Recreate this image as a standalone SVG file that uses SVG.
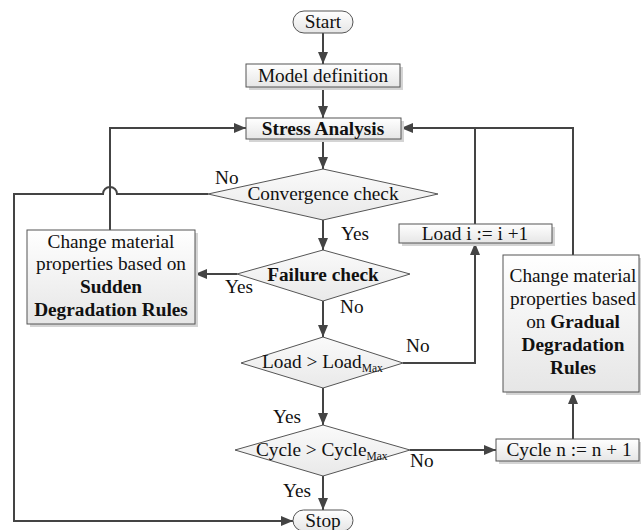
<svg xmlns="http://www.w3.org/2000/svg" width="641" height="530" viewBox="0 0 641 530">
<style>
text{font-family:'Liberation Serif','DejaVu Serif',serif;font-size:19.3px;fill:#111}
.c{text-anchor:middle}
.b{font-weight:bold}
.box{fill:url(#g);stroke:#555;stroke-width:1}
.sh{fill:#d4d4d4}
.dia{fill:url(#gd);stroke:#555;stroke-width:1}
.ln{fill:none;stroke:#444;stroke-width:2}
.ar{marker-end:url(#ah)}
.sub{font-size:11.5px}
</style>
<defs>
<linearGradient id="g" x1="0" y1="0" x2="0" y2="1"><stop offset="0" stop-color="#ffffff"/><stop offset="1" stop-color="#e6e6e6"/></linearGradient>
<linearGradient id="gd" x1="0" y1="0" x2="0" y2="1"><stop offset="0" stop-color="#fafafa"/><stop offset="1" stop-color="#e9e9e9"/></linearGradient>
<marker id="ah" markerUnits="userSpaceOnUse" markerWidth="12" markerHeight="10" refX="12" refY="5" orient="auto"><path d="M0,0 L12,5 L0,10 z" fill="#444"/></marker>
</defs>

<g id="connectors">
<path class="ln ar" d="M323,33 V64"/>
<path class="ln ar" d="M323,87 V118"/>
<path class="ln ar" d="M323,139 V169"/>
<path class="ln ar" d="M323,220 V250"/>
<path class="ln ar" d="M323,301 V337"/>
<path class="ln ar" d="M323,388 V425"/>
<path class="ln ar" d="M323,476 V510"/>
<path class="ln ar" d="M208,194 H117 A7,7 0 0 0 103,194 H14 V521 H293"/>
<path class="ln ar" d="M237,274 H195"/>
<path class="ln ar" d="M110,230 V128 H246"/>
<path class="ln ar" d="M403,363 H475 V243"/>
<path class="ln ar" d="M475,224 V128 H401"/>
<path class="ln" d="M573,255 V128 H474"/>
<path class="ln ar" d="M410,450 H496"/>
<path class="ln ar" d="M573,439 V392"/>
</g>

<g id="start">
<rect x="293" y="11" width="60" height="22" rx="11" class="box"/>
<text x="323" y="28" class="c">Start</text>
</g>

<g id="model">
<rect x="249" y="67" width="154" height="23" class="sh"/>
<rect x="246" y="64" width="154" height="23" class="box"/>
<text x="323" y="82" class="c">Model definition</text>
</g>

<g id="stress">
<rect x="249" y="121" width="155" height="21" class="sh"/>
<rect x="246" y="118" width="155" height="21" class="box"/>
<text x="323" y="135" class="c b">Stress Analysis</text>
</g>

<g id="convergence">
<polygon points="323,169 438,194 323,220 208,194" class="dia"/>
<text x="323" y="200" class="c">Convergence check</text>
</g>

<g id="failure">
<polygon points="323,250 410,274 323,301 237,274" class="dia"/>
<text x="323" y="281" class="c b">Failure check</text>
</g>

<g id="loadcheck">
<polygon points="323,337 403,363 323,388 241,363" class="dia"/>
<text x="262" y="368">Load &gt; Load<tspan class="sub" dy="4">Max</tspan></text>
</g>

<g id="cyclecheck">
<polygon points="323,425 410,450 323,476 235,450" class="dia"/>
<text x="256" y="456">Cycle &gt; Cycle<tspan class="sub" dy="4">Max</tspan></text>
</g>

<g id="stop">
<rect x="293" y="510" width="60" height="21" rx="10.5" class="box"/>
<text x="323" y="527" class="c">Stop</text>
</g>

<g id="sudden">
<rect x="30" y="233" width="168" height="94" class="sh"/>
<rect x="27" y="230" width="168" height="94" class="box"/>
<text x="111" y="248" class="c">Change material</text>
<text x="111" y="270" class="c">properties based on</text>
<text x="111" y="293" class="c b">Sudden</text>
<text x="111" y="316" class="c b">Degradation Rules</text>
</g>

<g id="loadinc">
<rect x="402" y="227" width="153" height="19" class="sh"/>
<rect x="399" y="224" width="153" height="19" class="box"/>
<text x="475" y="240" class="c">Load i := i +1</text>
</g>

<g id="gradual">
<rect x="506" y="258" width="135" height="137" class="sh"/>
<rect x="503" y="255" width="136" height="137" class="box"/>
<text x="573" y="282" class="c">Change material</text>
<text x="573" y="305" class="c">properties based</text>
<text x="573" y="328" class="c">on <tspan class="b">Gradual</tspan></text>
<text x="573" y="351" class="c b">Degradation</text>
<text x="573" y="374" class="c b">Rules</text>
</g>

<g id="cycleinc">
<rect x="499" y="442" width="142" height="22" class="sh"/>
<rect x="496" y="439" width="143" height="22" class="box"/>
<text x="569" y="456" class="c">Cycle n := n + 1</text>
</g>

<g id="labels">
<text x="215" y="184">No</text>
<text x="341" y="240">Yes</text>
<text x="225" y="293">Yes</text>
<text x="340" y="313">No</text>
<text x="406" y="352">No</text>
<text x="273" y="423">Yes</text>
<text x="410" y="467">No</text>
<text x="283" y="497">Yes</text>
</g>
</svg>
